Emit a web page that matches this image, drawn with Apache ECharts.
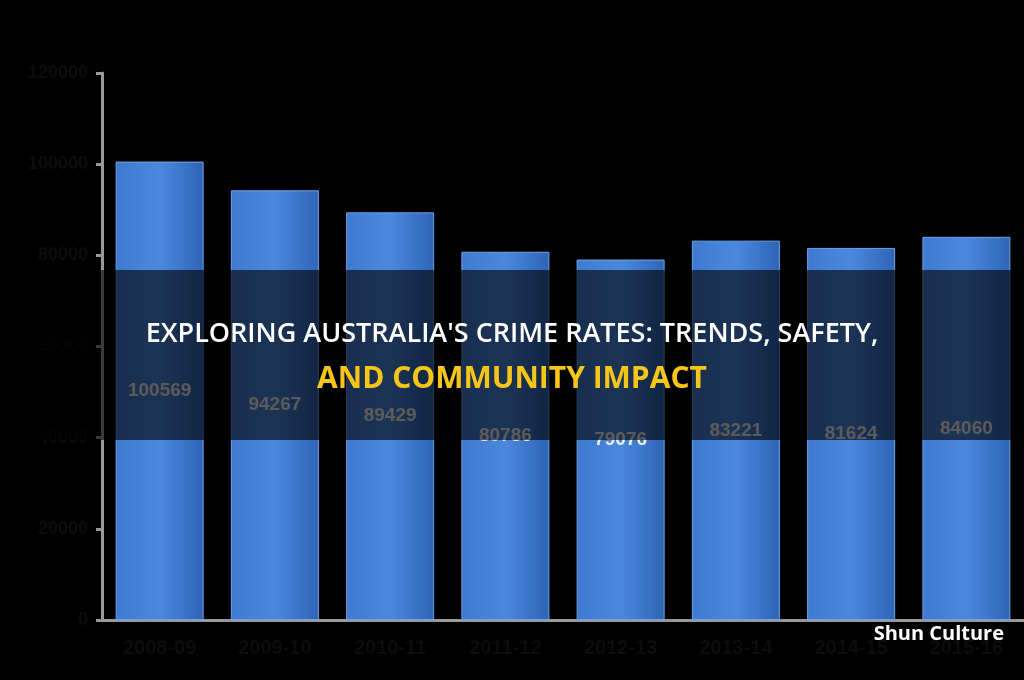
<!DOCTYPE html>
<html><head><meta charset="utf-8">
<script src="https://cdn.jsdelivr.net/npm/echarts@6/dist/echarts.min.js"></script>
<style>html,body{margin:0;background:#000}#c{width:1024px;height:680px}</style>
</head><body><div id="c"></div>
<script>
const categories = ['2008-09','2009-10','2010-11','2011-12','2012-13','2013-14','2014-15','2015-16'];
const values = [100569, 94267, 89429, 80786, 79076, 83221, 81624, 84060];
const yTicks = [0, 20000, 40000, 60000, 80000, 100000, 120000];
const chart = echarts.init(document.getElementById('c'));
chart.setOption({
  backgroundColor: '#000',
  animation: false,
  grid: {left: 102, top: 73, width: 928, height: 547},
  xAxis: {type: 'category', data: categories,
    axisLine: {lineStyle: {color: '#999', width: 3}},
    axisTick: {lineStyle: {color: '#999', width: 3}, length: 6},
    axisLabel: {color: '#0c0c0c', fontSize: 20, fontWeight: 'bold', margin: 18}},
  yAxis: {type: 'value', min: 0, max: 120000, interval: 20000,
    splitLine: {show: false},
    axisLine: {show: true, lineStyle: {color: '#999', width: 3}},
    axisTick: {show: true, lineStyle: {color: '#999', width: 3}, length: 6},
    axisLabel: {color: '#0c0c0c', fontSize: 18, fontWeight: 'bold', margin: 14,
      formatter: v => yTicks.includes(v) ? String(v) : ''}},
  series: [{type: 'bar', data: values, barWidth: 88,
    itemStyle: {color: new echarts.graphic.LinearGradient(0,0,1,0,[
      {offset:0,color:'#3f7ad0'},{offset:0.5,color:'#4a88de'},{offset:1,color:'#2f64b5'}]),
      borderColor: '#6fa3ea', borderWidth: 1},
    label: {show: true, position: 'inside', color: '#eeeeee', fontSize: 19, fontWeight: 'bold'}}],
  graphic: [
    {type: 'rect', left: 0, top: 270, shape: {width: 1024, height: 170}, style: {fill: 'rgba(0,0,0,0.62)'}, z: 100},
    {type: 'text', left: 'center', top: 321, style: {text: "EXPLORING AUSTRALIA'S CRIME RATES: TRENDS, SAFETY,", fill: '#fff', font: '600 27px "Open Sans", sans-serif'}, z: 101},
    {type: 'text', left: 'center', top: 364, style: {text: 'AND COMMUNITY IMPACT', fill: '#f5c518', font: 'bold 30px "Open Sans", sans-serif'}, z: 101},
    {type: 'text', right: 20, top: 624, style: {text: 'Shun Culture', fill: '#fff', font: 'bold 20px "Open Sans", sans-serif'}, z: 101}
  ]
});
</script></body></html>
